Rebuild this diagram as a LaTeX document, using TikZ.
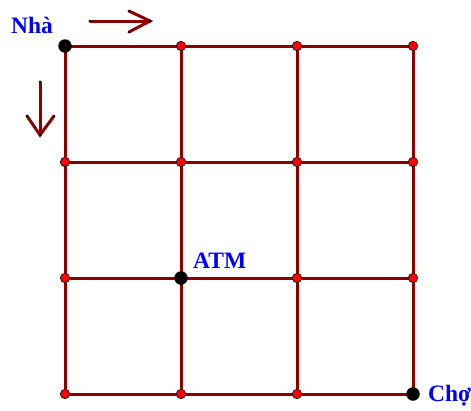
\documentclass[tikz,border=0pt]{standalone}
\usepackage{fontspec}
\setmainfont{Liberation Serif}
\begin{document}
\begin{tikzpicture}[x=1pt,y=-1pt,
  gridline/.style={draw={rgb,255:red,140;green,0;blue,0},line width=3pt},
  arrowline/.style={draw={rgb,255:red,140;green,0;blue,0},line width=3pt},
  reddot/.style={circle,fill=red,draw=black,line width=0.6pt,inner sep=0pt,minimum size=9.5pt},
  blackdot/.style={circle,fill=black,inner sep=0pt,minimum size=13.5pt},
  tipdot/.style={fill=black},
  lbl/.style={text=blue,font=\bfseries\fontsize{23.5}{24}\selectfont,inner sep=0pt,anchor=base west}]
\useasboundingbox (0,0) rectangle (471,410);
% grid coordinates
\foreach \i/\x in {0/65,1/181,2/297,3/413}{
  \foreach \j/\y in {0/46,1/162,2/278,3/394}{
    \coordinate (p\i\j) at (\x,\y);
  }
}
\foreach \j in {0,1,2,3}{
  \draw[gridline] (p0\j) -- (p3\j);
  \draw[gridline] (p\j0) -- (p\j3);
}
\foreach \i in {0,1,2,3}{
  \foreach \j in {0,1,2,3}{
    \node[reddot] (d\i\j) at (p\i\j) {};
  }
}
\node[blackdot] (home) at (p00) {};
\node[blackdot] (atm) at (p12) {};
\node[blackdot] (market) at (p33) {};
\node[lbl] (lhome) at (11,33) {Nhà};
\node[lbl] (latm) at (193,268) {ATM};
\node[lbl] (lmarket) at (428,401) {Chợ};
% arrows
\coordinate (ra) at (90,21);
\coordinate (rb) at (150,21);
\coordinate (rc) at (129,11);
\coordinate (rd) at (129,32);
\draw[arrowline,line cap=round] (ra) -- (rb);
\draw[arrowline,line cap=round,line join=miter] (rc) -- (rb) -- (rd);
\coordinate (da) at (40,82);
\coordinate (db) at (40,135);
\coordinate (dc) at (27,116);
\coordinate (dd) at (54,116);
\draw[arrowline,line cap=round] (da) -- (db);
\draw[arrowline,line cap=round,line join=miter] (dc) -- (db) -- (dd);
\foreach \c in {ra,rb,rc,rd,da,db,dc,dd}{
  \fill[tipdot] (\c) circle (1.3);
}
\end{tikzpicture}
\end{document}
